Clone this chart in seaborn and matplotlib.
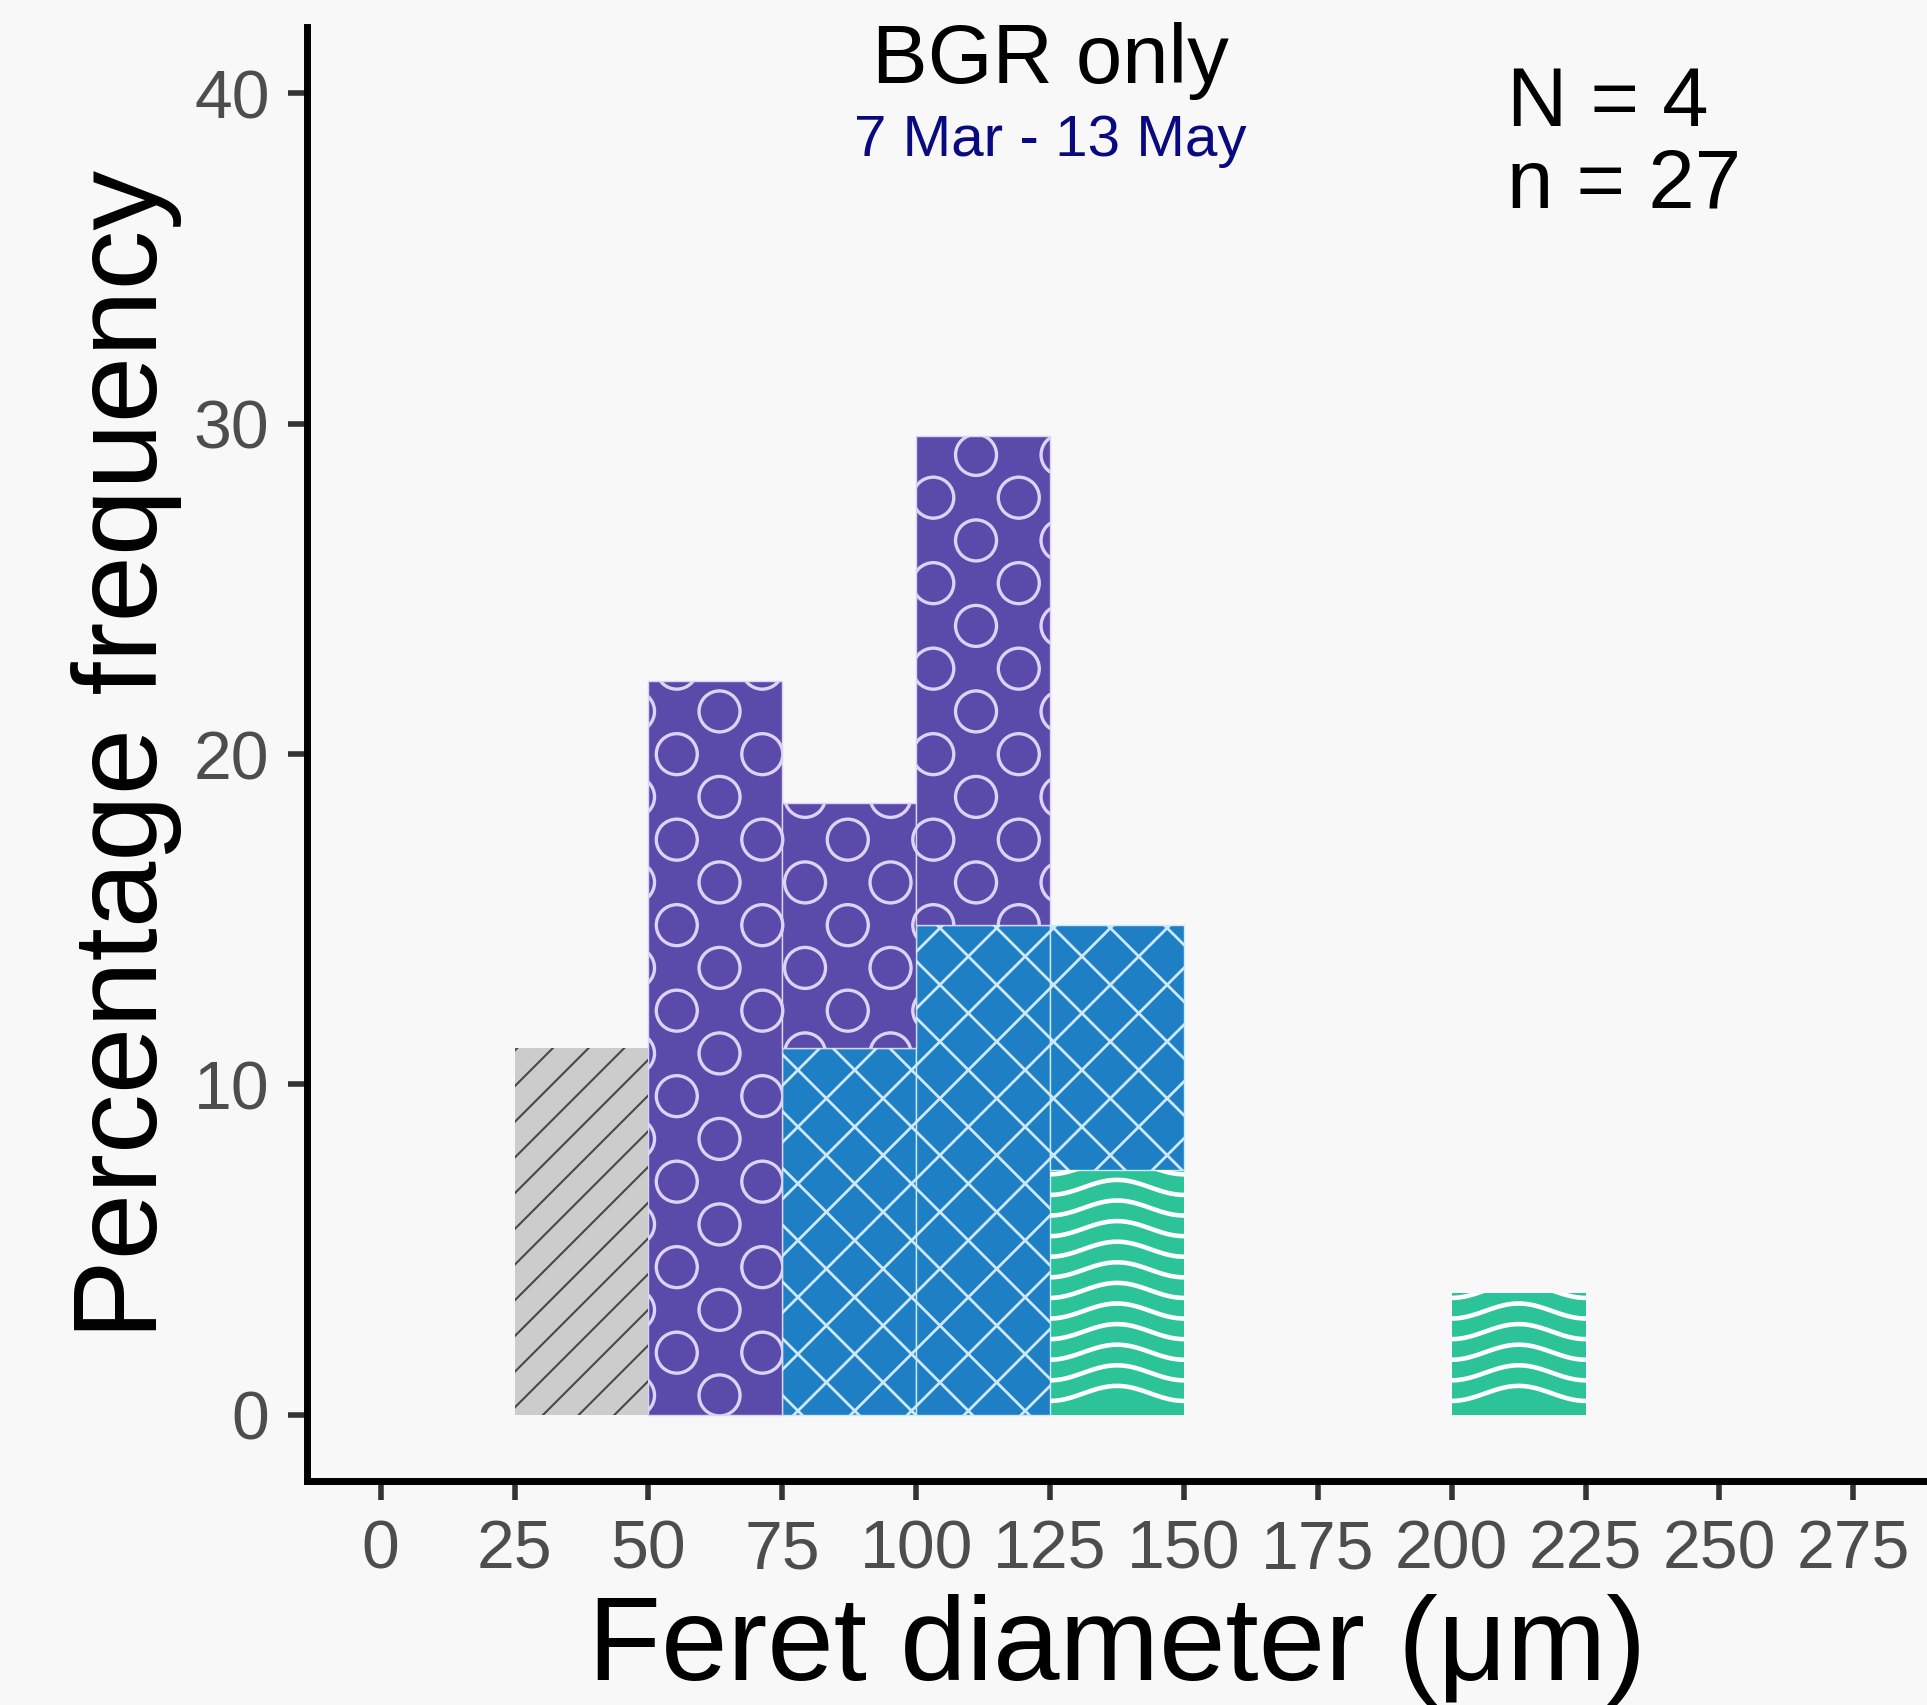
import numpy as np
import pandas as pd
import matplotlib
matplotlib.use("Agg")
import matplotlib.pyplot as plt
import seaborn as sns
from matplotlib.collections import LineCollection, PatchCollection
from matplotlib.patches import Circle
from matplotlib.transforms import IdentityTransform
import matplotlib.colors as mcolors

# ---- data -------------------------------------------------------------
bin_edges = [25, 50, 75, 100, 125, 150, 175, 200, 225]
bin_starts = bin_edges[:-1]
classes = ["stripes", "circles", "crosshatch", "waves"]
count_stripes = [3, 0, 0, 0, 0, 0, 0, 0]
count_circles = [0, 6, 2, 4, 0, 0, 0, 0]
count_crosshatch = [0, 0, 3, 4, 2, 0, 0, 0]
count_waves = [0, 0, 0, 0, 2, 0, 0, 1]
n_individuals = 4
n_particles = 27

x_ticks = list(range(0, 276, 25))
y_ticks = [0, 10, 20, 30, 40]
title = "BGR only"
subtitle = "7 Mar - 13 May"
x_label = "Feret diameter (μm)"
y_label = "Percentage frequency"

# ---- styling ------------------------------------------------------------
fill_colors = {"stripes": "#CCCCCC", "circles": "#5A4AA9",
               "crosshatch": "#1F7FC5", "waves": "#2BC397"}
pattern_colors = {"stripes": "#484848", "circles": "#DCD4F6",
                  "crosshatch": "#CDE9FA", "waves": "#FFFFFF"}
bg = "#F8F8F8"

sns.set_style("ticks")
plt.rcParams["font.family"] = ["Liberation Sans", "DejaVu Sans"]

rows = []
for cls, counts in zip(classes, [count_stripes, count_circles,
                                 count_crosshatch, count_waves]):
    for start, c in zip(bin_starts, counts):
        rows.append({"diameter": start + 12.5,
                     "pct": 100.0 * c / n_particles, "cls": cls})
df = pd.DataFrame(rows)

W, H = 1927, 1705
fig = plt.figure(figsize=(W / 100, H / 100), dpi=100)
fig.patch.set_facecolor(bg)
ax_left, ax_bottom, ax_top = 307, 1481, 27
ax = fig.add_axes([ax_left / W, 1 - ax_bottom / H,
                   1 - ax_left / W, (ax_bottom - ax_top) / H])
ax.set_facecolor(bg)

sns.histplot(data=df, x="diameter", weights="pct", hue="cls",
             hue_order=classes, multiple="stack", bins=bin_edges,
             palette=fill_colors, alpha=1, legend=False, linewidth=0,
             ax=ax)

ax.set_xlim(-13.75, 288.75)
ax.set_ylim(-2, 42)
ax.set_xticks(x_ticks)
ax.set_yticks(y_ticks)
ax.grid(False)

for side in ["top", "right"]:
    ax.spines[side].set_visible(False)
for side in ["left", "bottom"]:
    ax.spines[side].set_linewidth(5.0)
    ax.spines[side].set_color("black")
    ax.spines[side].set_capstyle("projecting")

ax.tick_params(axis="both", length=14, width=4, color="#333333",
               labelsize=49, labelcolor="#4D4D4D", pad=13)

ax.set_xlabel(x_label, fontsize=86, color="black")
ax.set_ylabel(y_label, fontsize=86, color="black")
ax.xaxis.set_label_coords(0.5, -0.137)
ax.xaxis.label.set_va("baseline")
ax.yaxis.set_label_coords(-0.0926, 0.5)
ax.yaxis.label.set_va("baseline")

ax.text(125, 40.3, title, ha="center", va="baseline", fontsize=60,
        color="black", clip_on=False)
ax.text(125, 38.1, subtitle, ha="center", va="baseline", fontsize=42,
        color="#0A0A80", clip_on=False)
ax.text(210.3, 39.0, f"N = {n_individuals}", ha="left", va="baseline",
        fontsize=60, color="black", clip_on=False)
ax.text(210.3, 36.55, f"n = {n_particles}", ha="left", va="baseline",
        fontsize=60, color="black", clip_on=False)

# ---- pattern fills ----------------------------------------------------
fig.canvas.draw()
ox, oy = ax.transData.transform((0, 0))
ident = IdentityTransform()


def cls_of(patch):
    fc = mcolors.to_hex(patch.get_facecolor())
    for c, col in fill_colors.items():
        if mcolors.to_hex(col) == fc:
            return c
    return None


def diag_segments(x0, y0, x1, y1, sign, offset, period):
    # lines in pixel space: (x-ox) - sign*(y-oy) = offset + k*period
    segs = []
    u0, u1 = x0 - ox, x1 - ox
    v0, v1 = y0 - oy, y1 - oy
    cs = [u0 - sign * v0, u0 - sign * v1, u1 - sign * v0, u1 - sign * v1]
    kmin = int(np.floor((min(cs) - offset) / period)) - 1
    kmax = int(np.ceil((max(cs) - offset) / period)) + 1
    span = (x1 - x0) + (y1 - y0)
    for k in range(kmin, kmax + 1):
        c = offset + k * period
        ua, ub = u0 - span, u1 + span
        va_, vb_ = sign * (ua - c), sign * (ub - c)
        segs.append([(ox + ua, oy + va_), (ox + ub, oy + vb_)])
    return segs


for patch in list(ax.patches):
    if patch.get_height() <= 0:
        continue
    cls = cls_of(patch)
    if cls is None:
        continue
    pc = pattern_colors[cls]
    bb = patch.get_window_extent()
    x0, y0, x1, y1 = bb.x0, bb.y0, bb.x1, bb.y1
    if cls == "stripes":
        patch.set_edgecolor("none")
        segs = diag_segments(x0, y0, x1, y1, 1, 19.6, 35.7)
        art = LineCollection(segs, colors=pc, linewidths=1.5,
                             transform=ident)
    elif cls == "crosshatch":
        patch.set_edgecolor(pc)
        patch.set_linewidth(1.0)
        segs = diag_segments(x0, y0, x1, y1, 1, 15.6, 56.8)
        segs += diag_segments(x0, y0, x1, y1, -1, 23.8, 56.8)
        art = LineCollection(segs, colors=pc, linewidths=2.0,
                             transform=ident)
    elif cls == "circles":
        patch.set_edgecolor(pc)
        patch.set_linewidth(1.0)
        step, r = 42.75, 20.5
        circles = []
        i0 = int(np.floor((x0 - ox - 82.4 - r) / step)) - 1
        i1 = int(np.ceil((x1 - ox - 82.4 + r) / step)) + 1
        j0 = int(np.floor((oy - y1 - 66 - r) / step)) - 1
        j1 = int(np.ceil((oy - y0 - 66 + r) / step)) + 1
        for i in range(i0, i1 + 1):
            for j in range(j0, j1 + 1):
                if (i + j) % 2:
                    continue
                cx = ox + 82.4 + step * i
                cy = oy - (66 + step * j)
                circles.append(Circle((cx, cy), r))
        art = PatchCollection(circles, facecolor="none", edgecolor=pc,
                              linewidths=2.4, transform=ident)
    else:  # waves
        patch.set_edgecolor("none")
        w = x1 - x0
        xs = np.linspace(x0 - 2, x1 + 2, 200)
        amp, gap = 7.5, 20.6
        segs = []
        k = 0
        while True:
            base = y0 + 14 + amp + gap * k
            if base - 2 * amp > y1 + 10:
                break
            ys = base - amp * np.cos(2 * np.pi * (xs - x0) / w)
            segs.append(np.column_stack([xs, ys]))
            k += 1
        art = LineCollection(segs, colors=pc, linewidths=3.3,
                             transform=ident)
    art.set_zorder(2.5)
    ax.add_collection(art, autolim=False)
    art.set_clip_path(patch)

ax.set_xlim(-13.75, 288.75)
ax.set_ylim(-2, 42)

fig.savefig("out.png", dpi=100, facecolor=fig.get_facecolor())
